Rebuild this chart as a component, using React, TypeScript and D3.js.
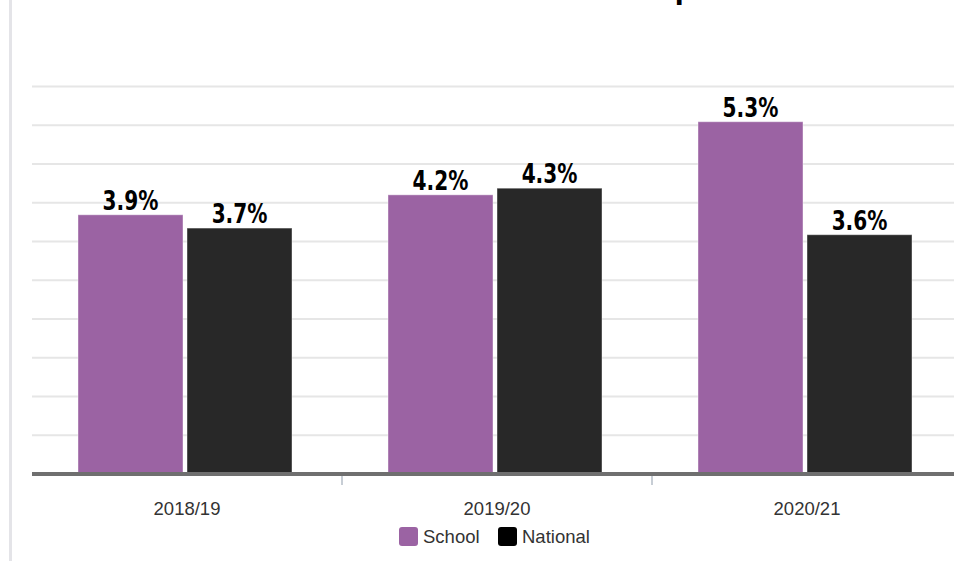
import React from "react";
import * as d3 from "d3";

const categories = ["2018/19", "2019/20", "2020/21"];
const seriesNames = ["School", "National"];
const schoolValues = [3.9, 4.2, 5.3];
const nationalValues = [3.7, 4.3, 3.6];
const seriesColors = ["#9b63a3", "#282828"];
const legendColors = ["#9b63a3", "#000000"];

const W = 954;
const H = 561;

export default function App() {
  const plotLeft = 32;
  const band = 310;
  const x = d3
    .scaleBand<string>()
    .domain(categories)
    .range([plotLeft, plotLeft + band * categories.length])
    .paddingInner(0)
    .paddingOuter(0);
  const xInner = d3
    .scaleBand<string>()
    .domain(seriesNames)
    .range([46, 260])
    .paddingInner(0.037);
  const yMax = 5.83;
  const y = d3.scaleLinear().domain([0, yMax]).range([474, 86.5]);
  const gridVals = d3.range(1, 11).map((i) => (i * yMax) / 10);
  const values = [schoolValues, nationalValues];

  return (
    <svg
      width={W}
      height={H}
      style={{ position: "absolute", left: 0, top: 0, background: "#fff" }}
    >
      <rect x={9} y={0} width={3} height={H} fill="#e4e4e8" />
      <text
        x={684}
        y={-1}
        textAnchor="middle"
        fontFamily="DejaVu Sans"
        fontWeight="bold"
        fontSize={26}
        fill="#000"
      >
        p
      </text>
      {gridVals.map((v, i) => (
        <line
          key={i}
          x1={plotLeft}
          x2={W}
          y1={y(v)}
          y2={y(v)}
          stroke="#e6e6e6"
          strokeWidth={2}
        />
      ))}
      {categories.map((c, ci) =>
        seriesNames.map((s, si) => {
          const v = values[si][ci];
          const bx = (x(c) as number) + (xInner(s) as number);
          const bw = xInner.bandwidth();
          return (
            <g key={c + s}>
              <rect
                x={bx}
                y={y(v)}
                width={bw}
                height={y(0) - y(v)}
                fill={seriesColors[si]}
                stroke="#ffffff"
                strokeOpacity={0.4}
                strokeWidth={1}
              />
              <g transform={`translate(${bx + bw / 2},${y(v) - 5}) scale(0.86,1)`}>
                <text
                  x={0}
                  y={0}
                  textAnchor="middle"
                  fontFamily="'DejaVu Sans Condensed', 'DejaVu Sans', sans-serif"
                  fontWeight="bold"
                  fontSize={26}
                  fill="#000"
                >
                  {v.toFixed(1)}%
                </text>
              </g>
            </g>
          );
        })
      )}
      <line
        x1={plotLeft}
        x2={W}
        y1={474}
        y2={474}
        stroke="#6f6f6f"
        strokeWidth={4}
      />
      {categories.slice(1).map((c) => (
        <line
          key={c}
          x1={x(c) as number}
          x2={x(c) as number}
          y1={476}
          y2={485}
          stroke="#8f9cab"
          strokeWidth={1}
        />
      ))}
      {categories.map((c) => (
        <text
          key={c}
          x={(x(c) as number) + 155}
          y={515}
          textAnchor="middle"
          fontFamily="'Liberation Sans', Arial, sans-serif"
          fontSize={18.5}
          fill="#333"
        >
          {c}
        </text>
      ))}
      {seriesNames.map((s, i) => {
        const lx = [399, 498][i];
        return (
          <g key={s}>
            <rect
              x={lx}
              y={527}
              width={19}
              height={19}
              rx={3}
              fill={legendColors[i]}
            />
            <text
              x={lx + 24}
              y={543}
              fontFamily="'Liberation Sans', Arial, sans-serif"
              fontSize={18.5}
              fill="#333"
            >
              {s}
            </text>
          </g>
        );
      })}
    </svg>
  );
}
